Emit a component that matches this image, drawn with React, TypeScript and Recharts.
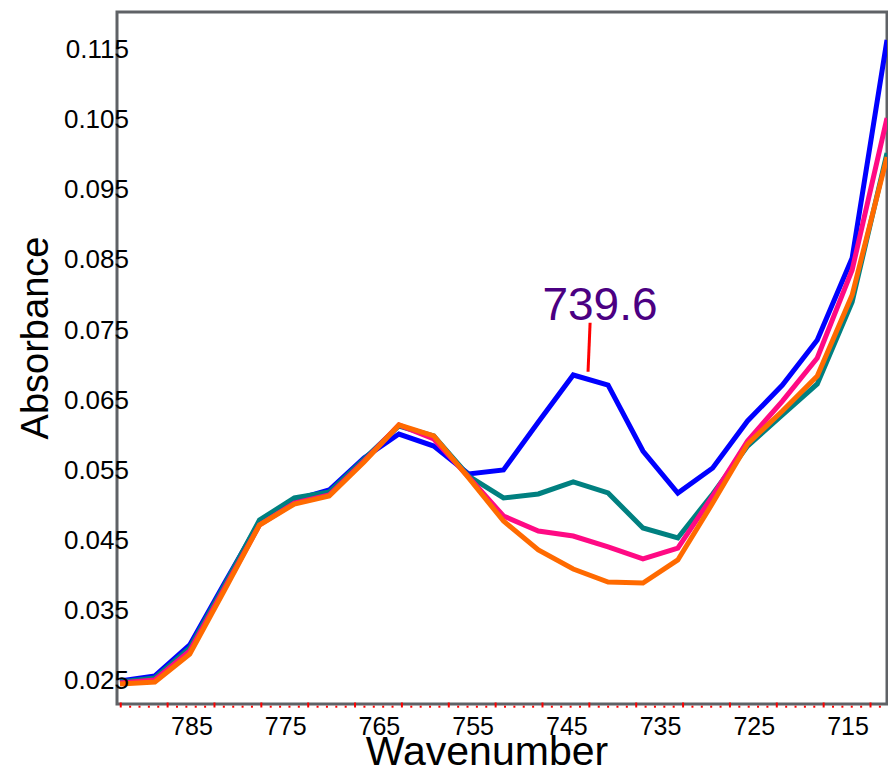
import React from 'react';
import { LineChart, Line, XAxis, YAxis, ReferenceArea, ReferenceLine, ReferenceDot } from 'recharts';

const wavenumbers = [
  792.68, 788.96, 785.24, 781.52, 777.8, 774.08, 770.36, 766.64, 762.92, 759.2, 755.48, 751.76,
  748.04, 744.32, 740.6, 736.88, 733.16, 729.44, 725.72, 722.0, 718.28, 714.56, 710.84,
];

// absorbance per spectrum
const blueSeries = [
  0.02493, 0.02564, 0.03006, 0.03889, 0.04758, 0.05071, 0.05214, 0.0567, 0.06011, 0.0584, 0.05442, 0.05499,
  0.06182, 0.06852, 0.06709, 0.05769, 0.05171, 0.05527, 0.06197, 0.06709, 0.0735, 0.08519, 0.11624,
];
const tealSeries = [
  0.02479, 0.02536, 0.02963, 0.0386, 0.04786, 0.051, 0.05185, 0.05655, 0.06125, 0.05983, 0.05413, 0.051,
  0.05157, 0.05328, 0.05171, 0.04672, 0.0453, 0.05157, 0.0584, 0.06282, 0.06724, 0.07892, 0.10014,
];
const pinkSeries = [
  0.02464, 0.02507, 0.0292, 0.03818, 0.04715, 0.05028, 0.05142, 0.05627, 0.0614, 0.0594, 0.05399, 0.04843,
  0.0463, 0.04558, 0.04402, 0.04231, 0.04387, 0.05128, 0.05912, 0.06481, 0.07094, 0.08348, 0.10513,
];
const orangeSeries = [
  0.0245, 0.02479, 0.02877, 0.03789, 0.04715, 0.05014, 0.05128, 0.05613, 0.0614, 0.05983, 0.05385, 0.04772,
  0.04359, 0.04088, 0.03903, 0.03889, 0.04217, 0.05028, 0.05869, 0.06339, 0.06838, 0.07991, 0.09957,
];

const yTicks = [0.025, 0.035, 0.045, 0.055, 0.065, 0.075, 0.085, 0.095, 0.105, 0.115];
const xLabelTicks = [785, 775, 765, 755, 745, 735, 725, 715];

const xDomain = [710.84, 793.0];
const yDomain = [0.02165, 0.12023];

// peak annotation
const peakLabel = '739.6';
const peakLeader = [
  { x: 742.52, y: 0.07597 },
  { x: 742.74, y: 0.06899 },
];
const peakTextPos = { x: 741.46, y: 0.07635 };

// small red minor ticks along the bottom axis
const xMinorTicks: number[] = [];
for (let n = 711; n <= 792; n++) xMinorTicks.push(n + 0.6);

const data = wavenumbers.map((wn, i) => ({
  wn,
  blue: blueSeries[i],
  teal: tealSeries[i],
  pink: pinkSeries[i],
  orange: orangeSeries[i],
}));

const FONT = '"Liberation Sans", Arial, Helvetica, sans-serif';

const XTick = (props: any) => {
  const { x, y, payload } = props;
  const v = payload.value;
  if (xLabelTicks.includes(v)) {
    return (
      <text x={x} y={y + 31} textAnchor="middle" fontSize={25} fontFamily={FONT} fill="#000">
        {v}
      </text>
    );
  }
  const major = Math.round(v - 0.6) % 5 === 2;
  return major ? (
    <rect x={x - 1} y={y - 1.5} width={2} height={5} fill="#ff0000" />
  ) : (
    <rect x={x - 1} y={y + 1.7} width={2} height={2} fill="#ff0000" />
  );
};

const YTick = (props: any) => {
  const { x, y, payload } = props;
  return (
    <text x={x + 12} y={y + 9} textAnchor="end" fontSize={26} fontFamily={FONT} fill="#000">
      {Number(payload.value).toFixed(3)}
    </text>
  );
};

const PeakText = (props: any) => (
  <text x={props.cx} y={props.cy} textAnchor="middle" fontSize={46} fontFamily={FONT} fill="#4b0082">
    {peakLabel}
  </text>
);

export default function App() {
  return (
    <div style={{ position: 'absolute', left: 0, top: 0, width: 888, height: 769, background: '#fff' }}>
      <LineChart width={888} height={769} data={data} margin={{ top: 12, right: 1, bottom: 35, left: 57 }}>
        <XAxis
          type="number"
          dataKey="wn"
          domain={xDomain}
          reversed
          allowDataOverflow
          ticks={[...xMinorTicks, ...xLabelTicks]}
          interval={0}
          tick={<XTick />}
          tickLine={false}
          axisLine={false}
          tickSize={0}
          tickMargin={0}
          height={30}
          label={() => (
            <text x={487} y={765} textAnchor="middle" fontSize={41} fontFamily={FONT} fill="#000">
              Wavenumber
            </text>
          )}
        />
        <YAxis
          type="number"
          domain={yDomain}
          allowDataOverflow
          ticks={yTicks}
          interval={0}
          tick={<YTick />}
          tickLine={false}
          axisLine={false}
          tickSize={0}
          tickMargin={0}
          width={60}
          label={() => (
            <text
              transform="translate(48,338) rotate(-90)"
              textAnchor="middle"
              fontSize={38}
              fontFamily={FONT}
              fill="#000"
            >
              Absorbance
            </text>
          )}
        />
        <ReferenceArea
          x1={xDomain[1]}
          x2={xDomain[0]}
          y1={yDomain[0]}
          y2={yDomain[1]}
          fill="none"
          stroke="#5f6266"
          strokeWidth={3}
          ifOverflow="visible"
        />
        <Line type="linear" dataKey="blue" stroke="#0000ff" strokeWidth={5} dot={false} isAnimationActive={false} />
        <Line type="linear" dataKey="teal" stroke="#008080" strokeWidth={5} dot={false} isAnimationActive={false} />
        <Line type="linear" dataKey="pink" stroke="#ff0a84" strokeWidth={5} dot={false} isAnimationActive={false} />
        <Line type="linear" dataKey="orange" stroke="#ff6a00" strokeWidth={5} dot={false} isAnimationActive={false} />
        <ReferenceLine segment={peakLeader} stroke="#ff0000" strokeWidth={3} ifOverflow="visible" />
        <ReferenceDot x={peakTextPos.x} y={peakTextPos.y} r={0} shape={<PeakText />} ifOverflow="visible" />
      </LineChart>
    </div>
  );
}
